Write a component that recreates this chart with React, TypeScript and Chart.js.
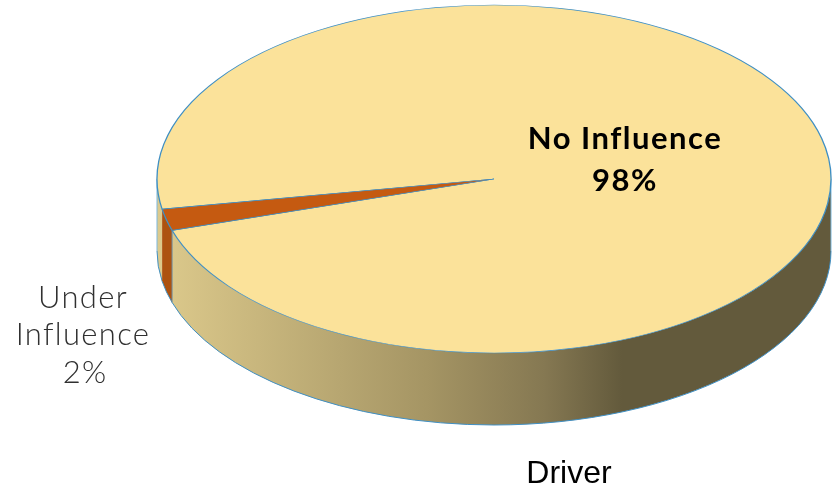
import React, { useEffect, useRef } from "react";
import { Chart, registerables } from "chart.js";

Chart.register(...registerables);

const categories = ["No Influence", "Under Influence"];
const values = [98, 2];
const sliceColors = ["#FBE29A", "#C55A11"];
const chartTitle = "Driver";

const CX = 494, CY = 179, RX = 337, RY = 174, DEPTH = 72;
const EDGE = "#3F8FC4";

const pie3d = {
  id: "pie3d",
  beforeDatasetsDraw(chart: any) {
    const { ctx } = chart;
    const arcs = chart.getDatasetMeta(0).data;
    const grad = ctx.createLinearGradient(CX - RX, 0, CX + RX, 0);
    grad.addColorStop(0, "#DDCA8C");
    grad.addColorStop(0.4, "#A59564");
    grad.addColorStop(0.575, "#857852");
    grad.addColorStop(0.69, "#635A3C");
    grad.addColorStop(1, "#635A3C");
    const walls = [grad, "#AD5210"];
    ctx.save();
    arcs.forEach((arc: any, i: number) => {
      const { startAngle, endAngle } = arc.getProps(["startAngle", "endAngle"], true);
      for (let k = 0; k < 2; k++) {
        const lo = Math.max(startAngle, k * 2 * Math.PI);
        const hi = Math.min(endAngle, k * 2 * Math.PI + Math.PI);
        if (hi <= lo) continue;
        ctx.beginPath();
        ctx.ellipse(CX, CY, RX, RY, 0, lo, hi);
        ctx.ellipse(CX, CY + DEPTH, RX, RY, 0, hi, lo, true);
        ctx.closePath();
        ctx.fillStyle = walls[i];
        ctx.fill();
        ctx.beginPath();
        ctx.ellipse(CX, CY + DEPTH, RX, RY, 0, lo, hi);
        ctx.strokeStyle = EDGE;
        ctx.lineWidth = 1;
        ctx.stroke();
      }
    });
    ctx.beginPath();
    ctx.moveTo(CX - RX, CY);
    ctx.lineTo(CX - RX, CY + DEPTH);
    ctx.moveTo(CX + RX, CY);
    ctx.lineTo(CX + RX, CY + DEPTH);
    ctx.strokeStyle = "#7DB7DC";
    ctx.stroke();
    const small = arcs[1].getProps(["startAngle"], true);
    const ex = CX + RX * Math.cos(small.startAngle);
    const ey = CY + RY * Math.sin(small.startAngle);
    ctx.beginPath();
    ctx.moveTo(ex, ey);
    ctx.lineTo(ex, ey + DEPTH);
    ctx.strokeStyle = "#6F8FA0";
    ctx.stroke();
    ctx.restore();
  },
  beforeDatasetDraw(chart: any) {
    const { ctx } = chart;
    const a = chart.getDatasetMeta(0).data[0];
    const { x, y, outerRadius } = a.getProps(["x", "y", "outerRadius"], true);
    ctx.save();
    ctx.translate(CX, CY);
    ctx.scale(RX / outerRadius, RY / outerRadius);
    ctx.translate(-x, -y);
  },
  afterDatasetDraw(chart: any) {
    chart.ctx.restore();
  },
  afterDraw(chart: any) {
    const { ctx } = chart;
    ctx.save();
    ctx.textAlign = "center";
    ctx.textBaseline = "alphabetic";
    ctx.fillStyle = "#000000";
    ctx.font = "700 31px Lato";
    (ctx as any).letterSpacing = "1.5px";
    ctx.fillText(categories[0], 625, 149);
    ctx.fillText(`${values[0]}%`, 625, 191);
    ctx.fillStyle = "#303030";
    ctx.font = "300 31px Lato";
    (ctx as any).letterSpacing = "1.3px";
    const [w1, w2] = categories[1].split(" ");
    ctx.fillText(w1, 83, 308);
    ctx.fillText(w2, 83, 345);
    ctx.fillText(`${values[1]}%`, 85, 383);
    ctx.restore();
  },
};

export default function App() {
  const ref = useRef<HTMLCanvasElement>(null);
  useEffect(() => {
    const chart = new Chart(ref.current!, {
      type: "pie",
      data: {
        labels: categories,
        datasets: [
          {
            data: values,
            backgroundColor: sliceColors,
            borderColor: EDGE,
            borderWidth: 0.9,
          },
        ],
      },
      options: {
        responsive: false,
        animation: false,
        rotation: 260,
        layout: { padding: { left: 304, right: 0, top: 0, bottom: -4 } },
        plugins: {
          legend: { display: false },
          tooltip: { enabled: false },
          title: {
            display: true,
            text: chartTitle,
            position: "bottom",
            fullSize: false,
            color: "#000000",
            font: { family: "'Liberation Sans'", size: 32, weight: "normal" },
            padding: 0,
          },
        },
      },
      plugins: [pie3d],
    } as any);
    return () => chart.destroy();
  }, []);
  return (
    <canvas
      ref={ref}
      width={834}
      height={489}
      style={{ position: "absolute", left: 0, top: 0, width: 834, height: 489 }}
    />
  );
}
